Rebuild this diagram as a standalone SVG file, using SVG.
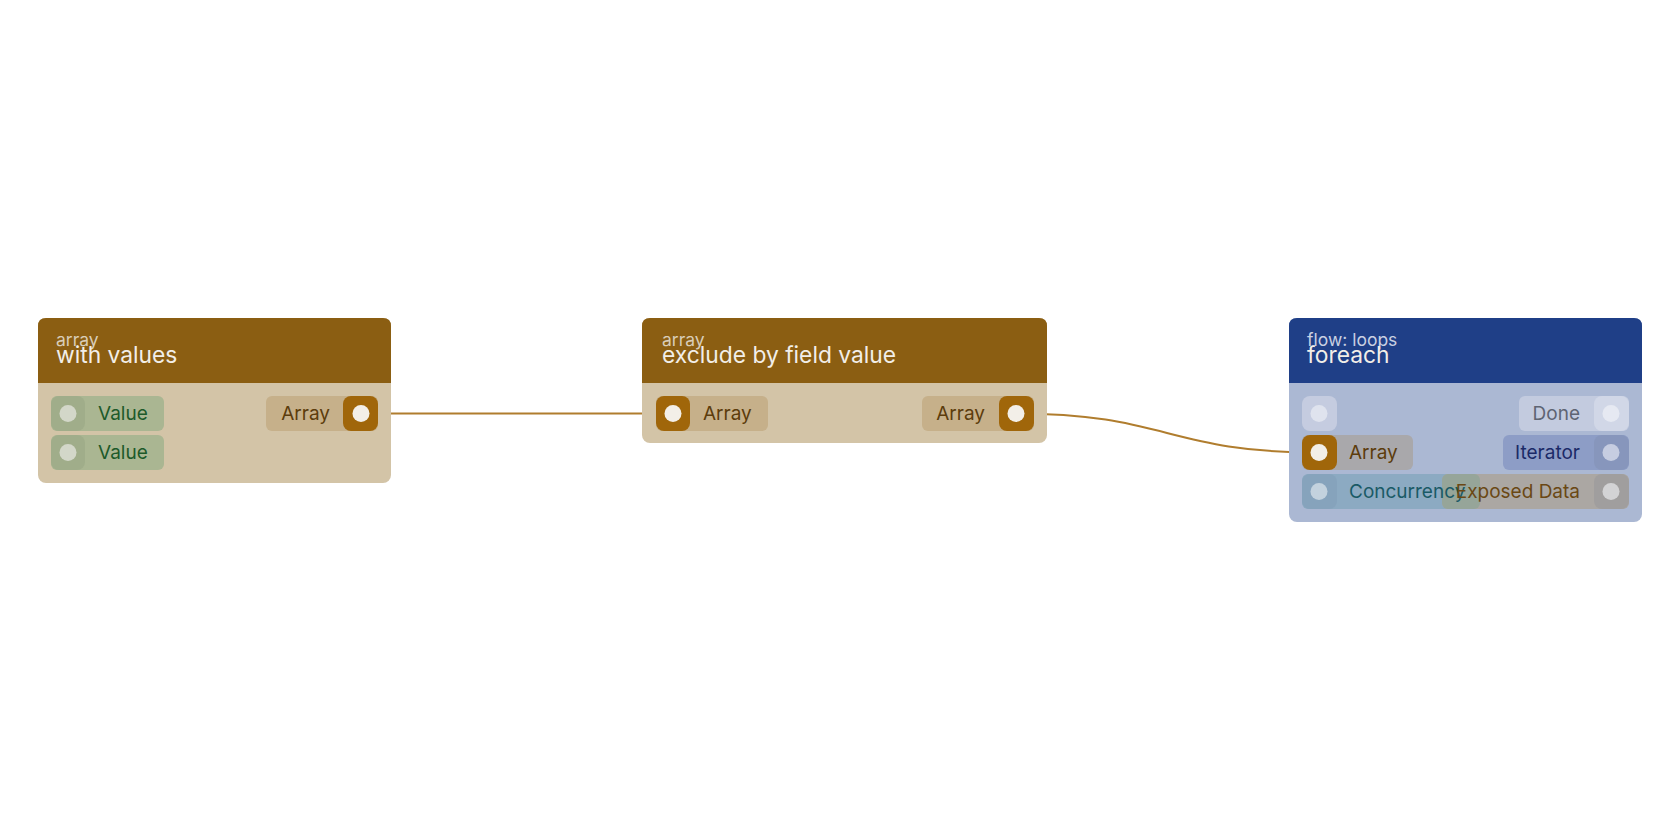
<svg xmlns="http://www.w3.org/2000/svg" width="1680" height="840" viewBox="0 0 1680 840">
<style>
.sub{font-family:Inter,"Noto Sans",sans-serif;font-size:17.5px;}
.ttl{font-family:Inter,"Noto Sans",sans-serif;font-size:22.8px;fill:#F2EEE8;}
.lbl{font-family:Inter,"Noto Sans",sans-serif;font-size:19px;}
.end{text-anchor:end;}
.pill{rx:6px;ry:6px;}
.port{rx:8px;ry:8px;}
.wire{fill:none;stroke:#B07D2E;stroke-width:2;}
</style>
<rect width="1680" height="840" fill="#FFFFFF"/>
<g id="connectors">
<path class="wire" d="M361,413.5 H673"/>
<path class="wire" d="M1016,413.5 C1167,413.5 1167,452.5 1319,452.5"/>
</g>
<g id="node-with-values">
<rect x="38" y="318" width="353" height="165" rx="8" fill="#D3C4A7"/>
<path d="M38,383 V326 Q38,318 46,318 H383 Q391,318 391,326 V383 Z" fill="#8B5E12"/>
<text class="sub" x="56" y="346" fill="#D9CDB8">array</text>
<text class="ttl" x="56" y="363">with values</text>
<rect class="pill" x="51" y="396" width="113" height="35" fill="#AAB692"/>
<rect class="port" x="51" y="396" width="34" height="35" fill="#A0AD8A"/>
<circle cx="68" cy="413.5" r="8.5" fill="#D3D7C9"/>
<text class="lbl" x="98" y="420" fill="#1D5A2A">Value</text>
<rect class="pill" x="51" y="435" width="113" height="35" fill="#AAB692"/>
<rect class="port" x="51" y="435" width="34" height="35" fill="#A0AD8A"/>
<circle cx="68" cy="452.5" r="8.5" fill="#D3D7C9"/>
<text class="lbl" x="98" y="459" fill="#1D5A2A">Value</text>
<rect class="pill" x="266" y="396" width="112" height="35" fill="#C6B08A"/>
<rect class="port" x="343" y="396" width="35" height="35" fill="#A0660A"/>
<circle cx="361" cy="413.5" r="8.5" fill="#F3EFE8"/>
<text class="lbl end" x="330" y="420" fill="#5C3C0C">Array</text>
</g>
<g id="node-exclude-by-field-value">
<rect x="642" y="318" width="405" height="125" rx="8" fill="#D3C4A7"/>
<path d="M642,383 V326 Q642,318 650,318 H1039 Q1047,318 1047,326 V383 Z" fill="#8B5E12"/>
<text class="sub" x="662" y="346" fill="#D9CDB8">array</text>
<text class="ttl" x="662" y="363">exclude by field value</text>
<rect class="pill" x="656" y="396" width="112" height="35" fill="#C6B08A"/>
<rect class="port" x="656" y="396" width="34" height="35" fill="#A0660A"/>
<circle cx="673" cy="413.5" r="8.5" fill="#F3EFE8"/>
<text class="lbl" x="703" y="420" fill="#5C3C0C">Array</text>
<rect class="pill" x="922" y="396" width="112" height="35" fill="#C6B08A"/>
<rect class="port" x="999" y="396" width="35" height="35" fill="#A0660A"/>
<circle cx="1016" cy="413.5" r="8.5" fill="#F3EFE8"/>
<text class="lbl end" x="985" y="420" fill="#5C3C0C">Array</text>
</g>
<g id="node-foreach">
<rect x="1289" y="318" width="353" height="204" rx="8" fill="#ABB8D3"/>
<path d="M1289,383 V326 Q1289,318 1297,318 H1634 Q1642,318 1642,326 V383 Z" fill="#1F3F87"/>
<text class="sub" x="1307" y="346" fill="#C9D0E2">flow: loops</text>
<text class="ttl" x="1307" y="363">foreach</text>
<rect class="port" x="1302" y="396" width="35" height="35" fill="#C5CCE0"/>
<circle cx="1319" cy="413.5" r="8.5" fill="#DFE3EE"/>
<rect class="pill" x="1519" y="396" width="110" height="35" fill="#C3CBDF"/>
<rect class="port" x="1594" y="396" width="35" height="35" fill="#D1D7E7"/>
<circle cx="1611" cy="413.5" r="8.5" fill="#E6E9F2"/>
<text class="lbl end" x="1580" y="420" fill="#5E6473">Done</text>
<rect class="pill" x="1302" y="435" width="111" height="35" fill="#A9A8AB"/>
<rect class="port" x="1302" y="435" width="35" height="35" fill="#A0660A"/>
<circle cx="1319" cy="452.5" r="8.5" fill="#F3EFE8"/>
<text class="lbl" x="1349" y="459" fill="#5C3C0C">Array</text>
<rect class="pill" x="1503" y="435" width="126" height="35" fill="#8D9DC6"/>
<rect class="port" x="1594" y="435" width="35" height="35" fill="#8796BC"/>
<circle cx="1611" cy="452.5" r="8.5" fill="#C6CDE1"/>
<text class="lbl end" x="1580" y="459" fill="#1B2A68">Iterator</text>
<rect class="pill" x="1302" y="474" width="178" height="35" fill="#8CAAC2"/>
<rect class="port" x="1302" y="474" width="35" height="35" fill="#86A3BC"/>
<circle cx="1319" cy="491.5" r="8.5" fill="#C3D2DE"/>
<rect class="pill" x="1442" y="474" width="187" height="35" fill="#ABA7A3"/>
<rect class="pill" x="1442" y="474" width="38" height="35" fill="#96A599"/>
<rect class="port" x="1594" y="474" width="35" height="35" fill="#A09E9E"/>
<circle cx="1611" cy="491.5" r="8.5" fill="#D3D3D5"/>
<text class="lbl" x="1349" y="498" fill="#1A5A66">Concurrency</text>
<text class="lbl end" x="1580" y="498" fill="#6A4814">Exposed Data</text>
</g>
</svg>
